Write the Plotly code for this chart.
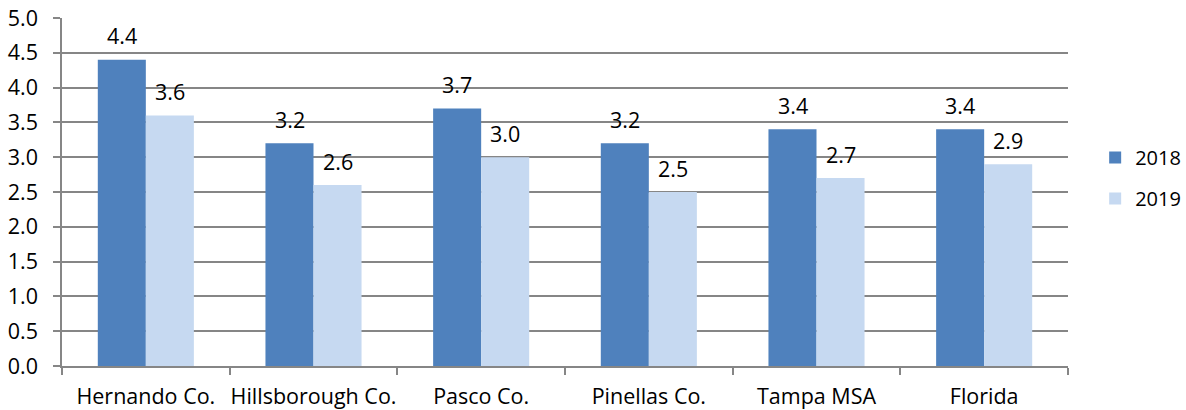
import plotly.graph_objects as go

categories = ["Hernando Co.", "Hillsborough Co.", "Pasco Co.", "Pinellas Co.", "Tampa MSA", "Florida"]
values_2018 = [4.4, 3.2, 3.7, 3.2, 3.4, 3.4]
values_2019 = [3.6, 2.6, 3.0, 2.5, 2.7, 2.9]
y_ticks = [0.0, 0.5, 1.0, 1.5, 2.0, 2.5, 3.0, 3.5, 4.0, 4.5, 5.0]

FONT = "Open Sans"
FS = 21.5
fig = go.Figure()
fig.add_trace(go.Bar(name="2018", x=categories, y=values_2018,
                     marker=dict(color="#4F81BD", line=dict(width=0)),
                     legendgroup="a"))
fig.add_trace(go.Bar(name="2019", x=categories, y=values_2019,
                     marker=dict(color="#C6D9F1", line=dict(width=0)),
                     legendgroup="b"))

for vals, shift in ((values_2018, -24), (values_2019, 24)):
    for c, v in zip(categories, vals):
        fig.add_annotation(x=c, y=v, xref="x", yref="y", text=f"{v:.1f}",
                           showarrow=False, xshift=shift, yshift=24,
                           font=dict(family=FONT, size=FS, color="#000000"))

fig.update_layout(
    width=1186, height=410,
    margin=dict(l=62, r=118, t=18, b=44, autoexpand=False),
    paper_bgcolor="white", plot_bgcolor="white",
    barmode="group", bargap=0.427, bargroupgap=0,
    font=dict(family=FONT, size=FS, color="#000000"),
    legend=dict(x=1.027, y=0.54, xanchor="left", yanchor="middle",
                font=dict(family=FONT, size=20), tracegroupgap=12,
                itemwidth=30),
    showlegend=True,
)
fig.update_xaxes(showline=True, linecolor="#868686", linewidth=1.5,
                 ticks="outside", tickson="boundaries", ticklen=7,
                 tickcolor="#868686", tickwidth=1.5, automargin=False,
                 ticklabelstandoff=10, tickangle=0,
                 tickfont=dict(family=FONT, size=FS), showgrid=False)
fig.update_yaxes(range=[0, 5.0], tickvals=y_ticks,
                 ticktext=[f"{t:.1f}" for t in y_ticks],
                 showline=True, linecolor="#868686", linewidth=1.5,
                 ticks="outside", ticklen=7, tickcolor="#868686", tickwidth=1.5,
                 showgrid=True, gridcolor="#868686", gridwidth=1.5,
                 automargin=False, zeroline=False, ticklabelstandoff=11,
                 tickfont=dict(family=FONT, size=FS))

fig.write_html("out.html", config={"displayModeBar": False},
               post_script="document.body.style.margin='0';")
